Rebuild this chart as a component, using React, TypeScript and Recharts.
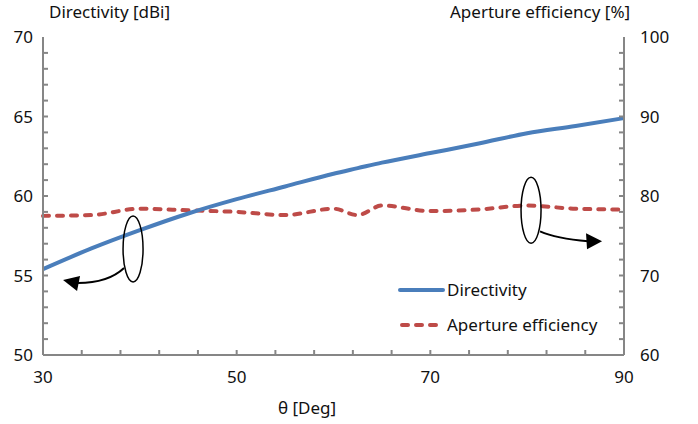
import React from 'react';
import { ComposedChart, Line, XAxis, YAxis, Legend, ReferenceDot } from 'recharts';

const theta = [30, 35, 40, 45, 50, 55, 60, 62.5, 65, 70, 75, 80, 85, 90];
const directivity = [55.4, 56.7, 57.85, 58.9, 59.8, 60.6, 61.4, 61.75, 62.1, 62.7, 63.3, 63.95, 64.4, 64.9];
const efficiency = [77.5, 77.6, 78.4, 78.2, 78.0, 77.6, 78.4, 77.6, 78.8, 78.1, 78.3, 78.8, 78.4, 78.3];

const xTicks = [30, 34, 38, 42, 46, 50, 54, 58, 62, 66, 70, 74, 78, 82, 86, 90];
const xLabels = [30, 50, 70, 90];
const leftTicks = Array.from({ length: 21 }, (_, i) => 50 + i);
const leftLabels = [50, 55, 60, 65, 70];
const rightTicks = Array.from({ length: 21 }, (_, i) => 60 + i * 2);
const rightLabels = [60, 70, 80, 90, 100];

const data = theta.map((t, i) => ({ theta: t, dir: directivity[i], eff: efficiency[i] }));

const AXIS = '#868686';
const BLUE = '#4A7EBB';
const RED = '#BE4B48';
const FONT = '"Noto Sans", "Open Sans", sans-serif';
const FS = 17;
const TXT = '#111';

const XTick = (p: any) => {
  const { x, y, payload } = p;
  const v = payload.value;
  return (
    <g>
      {v !== 30 && v !== 90 && <line x1={x} x2={x} y1={y} y2={y - 5} stroke={AXIS} strokeWidth={2} />}
      {xLabels.includes(v) && (
        <text x={x} y={y + 28} textAnchor="middle" fontSize={FS} fontFamily={FONT} fill={TXT}>{v}</text>
      )}
    </g>
  );
};

const LTick = (p: any) => {
  const { x, y, payload } = p;
  const v = payload.value;
  return (
    <g>
      {v !== 50 && v !== 70 && <line x1={x} x2={x + 5} y1={y} y2={y} stroke={AXIS} strokeWidth={2} />}
      {leftLabels.includes(v) && (
        <text x={x - 10} y={y + 6} textAnchor="end" fontSize={FS} fontFamily={FONT} fill={TXT}>{v}</text>
      )}
    </g>
  );
};

const RTick = (p: any) => {
  const { x, y, payload } = p;
  const v = payload.value;
  return (
    <g>
      {v !== 60 && v !== 100 && <line x1={x} x2={x - 5} y1={y} y2={y} stroke={AXIS} strokeWidth={2} />}
      {rightLabels.includes(v) && (
        <text x={x + 16} y={y + 6} textAnchor="start" fontSize={FS} fontFamily={FONT} fill={TXT}>{v}</text>
      )}
    </g>
  );
};

const LeftNote = (p: any) => {
  const { cx, cy } = p;
  return (
    <g>
      <ellipse cx={cx} cy={cy} rx={10} ry={33} fill="none" stroke="#000" strokeWidth={1.5} />
      <path d={`M ${cx - 9} ${cy + 19} Q ${cx - 25} ${cy + 34} ${cx - 55} ${cy + 34}`} fill="none" stroke="#000" strokeWidth={2} />
      <polygon points={`${cx - 70},${cy + 31} ${cx - 53},${cy + 27} ${cx - 56},${cy + 42}`} fill="#000" />
    </g>
  );
};

const RightNote = (p: any) => {
  const { cx, cy } = p;
  return (
    <g>
      <ellipse cx={cx} cy={cy} rx={10} ry={33} fill="none" stroke="#000" strokeWidth={1.5} />
      <path d={`M ${cx + 9} ${cy + 21} Q ${cx + 25} ${cy + 28} ${cx + 57} ${cy + 31}`} fill="none" stroke="#000" strokeWidth={2} />
      <polygon points={`${cx + 71},${cy + 31} ${cx + 55},${cy + 23} ${cx + 56},${cy + 39}`} fill="#000" />
    </g>
  );
};

const LegendContent = () => (
  <svg width={240} height={60} style={{ display: 'block' }}>
    <line x1={2} x2={45} y1={12} y2={12} stroke={BLUE} strokeWidth={4} strokeLinecap="round" />
    <text x={49} y={18} fontSize={FS} fontFamily={FONT} fill={TXT}>Directivity</text>
    <line x1={4} x2={45} y1={47} y2={47} stroke={RED} strokeWidth={4} strokeDasharray="6 8" strokeLinecap="round" />
    <text x={49} y={53} fontSize={FS} fontFamily={FONT} fill={TXT}>Aperture efficiency</text>
  </svg>
);

export default function App() {
  return (
    <div style={{ position: 'absolute', left: 0, top: 0, width: 698, height: 424, background: '#fff', fontFamily: FONT }}>
      <ComposedChart width={698} height={424} data={data} margin={{ top: 37, right: 0, bottom: 0, left: 0 }}>
        <XAxis xAxisId="b" dataKey="theta" type="number" domain={[30, 90]} ticks={xTicks} interval={0}
          height={69} tickSize={0} tickMargin={0} axisLine={{ stroke: AXIS, strokeWidth: 2 }} tickLine={false} tick={<XTick />} />
        <XAxis xAxisId="t" orientation="top" dataKey="theta" type="number" domain={[30, 90]} height={0}
          tick={false} tickLine={false} axisLine={{ stroke: AXIS, strokeWidth: 2 }} />
        <YAxis yAxisId="left" type="number" domain={[50, 70]} ticks={leftTicks} interval={0} width={43}
          tickSize={0} tickMargin={0} axisLine={{ stroke: AXIS, strokeWidth: 2 }} tickLine={false} tick={<LTick />} />
        <YAxis yAxisId="right" orientation="right" type="number" domain={[60, 100]} ticks={rightTicks} interval={0} width={74}
          tickSize={0} tickMargin={0} axisLine={{ stroke: AXIS, strokeWidth: 2 }} tickLine={false} tick={<RTick />} />
        <Line xAxisId="b" yAxisId="right" type="monotone" dataKey="eff" stroke={RED} strokeWidth={4}
          strokeDasharray="6 8" strokeLinecap="round" dot={false} isAnimationActive={false} />
        <Line xAxisId="b" yAxisId="left" type="monotone" dataKey="dir" stroke={BLUE} strokeWidth={4}
          dot={false} isAnimationActive={false} />
        <ReferenceDot xAxisId="b" yAxisId="left" x={39.3} y={56.67} r={0} shape={<LeftNote />} />
        <ReferenceDot xAxisId="b" yAxisId="right" x={80.4} y={78.2} r={0} shape={<RightNote />} />
        <Legend layout="vertical" align="center" verticalAlign="middle" content={<LegendContent />}
          wrapperStyle={{ position: 'absolute', left: 398, top: 278, width: 240, height: 60 }} />
      </ComposedChart>
      <svg width={698} height={424} style={{ position: 'absolute', left: 0, top: 0, pointerEvents: 'none' }}>
        <text x={49} y={18} fontSize={FS} fontFamily={FONT} fill={TXT}>Directivity [dBi]</text>
        <text x={450} y={18} fontSize={FS} fontFamily={FONT} fill={TXT}>Aperture efficiency [%]</text>
        <text x={307} y={414} textAnchor="middle" fontSize={FS} fontFamily={FONT} fill={TXT}>θ [Deg]</text>
      </svg>
    </div>
  );
}
